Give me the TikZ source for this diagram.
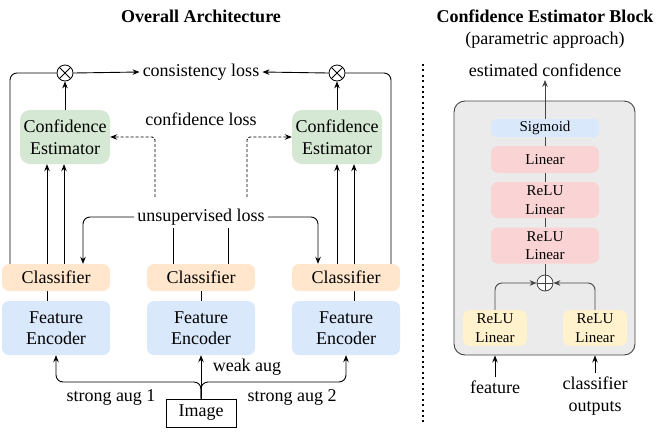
\documentclass[tikz,border=0pt]{standalone}
\usepackage{fontspec}
\setmainfont{Liberation Serif}
\usetikzlibrary{arrows.meta,calc}
\definecolor{cegreen}{HTML}{D5E8D4}
\definecolor{clsorange}{HTML}{FFE6CC}
\definecolor{encblue}{HTML}{DAE8FC}
\definecolor{linpink}{HTML}{FAD4D4}
\definecolor{yel}{HTML}{FFF2CC}
\definecolor{graybg}{HTML}{EBEBEB}
\definecolor{dgray}{HTML}{444444}
\tikzset{
  box/.style={rounded corners=7pt, draw=none, align=center, inner sep=0pt},
  clsbox/.style={box, fill=clsorange, minimum width=108pt, minimum height=27pt},
  encbox/.style={box, fill=encblue, minimum width=108pt, minimum height=54pt},
  cebox/.style={box, fill=cegreen, minimum width=90pt, minimum height=54pt, rounded corners=10pt},
  small/.style={font=\fontsize{15}{18.5}\selectfont},
  pinkbox/.style={box, small, fill=linpink, minimum width=108pt},
  yelbox/.style={box, small, fill=yel, minimum width=64pt, minimum height=36pt},
  otimes/.style={circle, draw, line width=0.8pt, minimum size=16pt, inner sep=0pt,
    path picture={\draw[line width=0.8pt] (path picture bounding box.north west) -- (path picture bounding box.south east)
                        (path picture bounding box.south west) -- (path picture bounding box.north east);}},
  oplus/.style={circle, draw=dgray, line width=0.8pt, fill=white, minimum size=16pt, inner sep=0pt,
    path picture={\draw[dgray, line width=0.8pt] (path picture bounding box.north) -- (path picture bounding box.south)
                        (path picture bounding box.west) -- (path picture bounding box.east);}},
  arr/.style={-{Stealth[length=7pt,width=5.5pt]}, line width=0.9pt},
  ln/.style={line width=0.9pt},
  dsh/.style={arr, dash pattern=on 3pt off 2pt, rounded corners=3pt},
  lbl/.style={inner sep=3pt},
}
\begin{document}
\begin{tikzpicture}[x=1pt,y=-1pt, font=\fontsize{18}{21.6}\selectfont]
\useasboundingbox (0,0) rectangle (664,432);

% ---------- titles ----------
\node[font=\fontsize{18}{21.6}\selectfont\bfseries] (t1) at (201,16) {Overall Architecture};
\node[font=\fontsize{18}{21.6}\selectfont\bfseries] (t2) at (545,16) {Confidence Estimator Block};
\node (t3) at (545,40) {(parametric approach)};

% ---------- separator ----------
\coordinate (sepT) at (423,64);
\coordinate (sepB) at (423,422);
\draw[line width=2pt, dash pattern=on 2pt off 3.4pt] (sepT) -- (sepB);

% ---------- left: connectors drawn behind the boxes ----------
\draw[ln] (47,301) -- (47,291);
\draw[ln] (354,301) -- (354,291);

% ---------- left: nodes ----------
\node[clsbox] (clsL) at (56,277.5) {Classifier};
\node[clsbox] (clsM) at (201,277.5) {Classifier};
\node[clsbox] (clsR) at (346,277.5) {Classifier};
\node[encbox] (encL) at (56,328) {Feature\\Encoder};
\node[encbox] (encM) at (201,328) {Feature\\Encoder};
\node[encbox] (encR) at (346,328) {Feature\\Encoder};
\node[cebox] (ceL) at (65,137) {Confidence\\Estimator};
\node[cebox] (ceR) at (337,137) {Confidence\\Estimator};
\node[otimes] (otL) at (65,73) {};
\node[otimes] (otR) at (337,73) {};
\node[draw, line width=0.9pt, minimum width=70pt, minimum height=28pt, inner sep=0pt] (img) at (201,413) {Image};

\node[lbl] (cons) at (201,72) {consistency loss};
\node[lbl] (conf) at (201,119) {confidence loss};
\node[lbl] (uns) at (201,217) {unsupervised loss};
\node[lbl] (weak) at (247,367) {weak aug};
\node[lbl] (s1) at (111,397) {strong aug 1};
\node[lbl] (s2) at (292,397) {strong aug 2};

\coordinate (br) at (201,382);
\coordinate (dl) at (155,197);
\coordinate (dr) at (247,197);

% image to encoders
\draw[arr] (img.north) -- (encM.south);
\draw[arr, rounded corners=7pt] (img.north) -- (br) -| (encL.south);
\draw[arr, rounded corners=7pt] (img.north) -- (br) -| (encR.south);

% encoder to classifier (middle)
\draw[ln] (encM.north) -- (clsM.south);

% into the confidence estimators
\draw[arr] ([xshift=-9pt]clsL.north) -- ([xshift=-9pt]clsL.north |- ceL.south);
\draw[arr] ([xshift=8pt]clsL.north) -- ([xshift=8pt]clsL.north |- ceL.south);
\draw[arr] ([xshift=-9pt]clsR.north) -- ([xshift=-9pt]clsR.north |- ceR.south);
\draw[arr] ([xshift=8pt]clsR.north) -- ([xshift=8pt]clsR.north |- ceR.south);

% estimators to otimes
\draw[arr] (ceL.north) -- (otL.south);
\draw[arr] (ceR.north) -- (otR.south);

% loops
\draw[ln, rounded corners=7pt] ([xshift=-46pt]clsL.north) |- (otL.west);
\draw[ln, rounded corners=7pt] ([xshift=45pt]clsR.north) |- (otR.east);

% consistency loss
\draw[arr] (otL.east) -- (cons.west);
\draw[arr] (otR.west) -- (cons.east);

% unsupervised loss
\draw[arr, rounded corners=7pt] (uns.west) -| ([xshift=27pt]clsL.north);
\draw[arr, rounded corners=7pt] (uns.east) -| ([xshift=-28pt]clsR.north);
\draw[ln] ([xshift=-28pt]clsM.north) -- ([xshift=-28pt]clsM.north |- uns.south);
\draw[ln] ([xshift=27pt]clsM.north) -- ([xshift=27pt]clsM.north |- uns.south);

% confidence loss (dashed)
\draw[dsh] (dl) |- (ceL.east);
\draw[dsh] (dr) |- (ceR.west);

% ---------- right: confidence estimator block ----------
\node[rounded corners=11pt, draw=dgray, line width=0.9pt, fill=graybg, minimum width=181pt, minimum height=254pt, inner sep=0pt] (gb) at (544.5,228) {};
\node (est) at (545,70) {estimated confidence};
\node[box, small, fill=encblue, minimum width=108pt, minimum height=18pt, rounded corners=5pt] (sig) at (545,128) {Sigmoid};
\node[pinkbox, minimum height=27pt] (lin) at (545,159.5) {Linear};
\node[pinkbox, minimum height=36pt] (rl1) at (545,200) {ReLU\\Linear};
\node[pinkbox, minimum height=36pt] (rl2) at (545,245.5) {ReLU\\Linear};
\node[oplus] (op) at (545,283) {};
\node[yelbox] (yl) at (495,328) {ReLU\\Linear};
\node[yelbox] (yr) at (595,328) {ReLU\\Linear};
\node (feat) at (495,387) {feature};
\node[align=center] (cout) at (595,396) {classifier\\outputs};

\draw[ln, dgray] (op.north) -- (rl2.south);
\draw[ln, dgray] (rl2.north) -- (rl1.south);
\draw[ln, dgray] (rl1.north) -- (lin.south);
\draw[ln, dgray] (lin.north) -- (sig.south);
\draw[arr, dgray] (sig.north) -- (est.south);
\draw[arr, dgray, rounded corners=7pt] (yl.north) |- (op.west);
\draw[arr, dgray, rounded corners=7pt] (yr.north) |- (op.east);
\draw[arr] (feat.north) -- (feat.north |- gb.south);
\draw[arr] (cout.north) -- (cout.north |- gb.south);
\end{tikzpicture}
\end{document}
